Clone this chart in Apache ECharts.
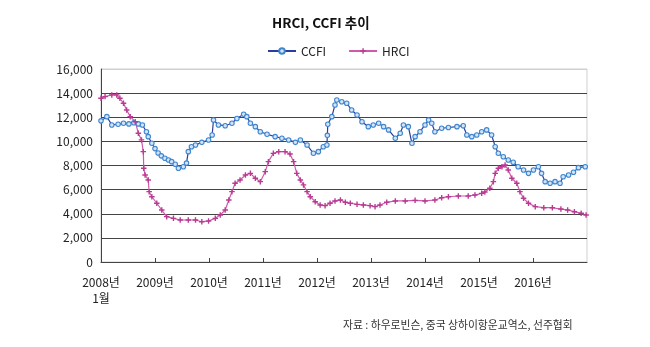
<!DOCTYPE html>
<html><head><meta charset="utf-8">
<script src="https://cdn.jsdelivr.net/npm/echarts@6/dist/echarts.min.js"></script>
<style>html,body{margin:0;padding:0;background:#fff}#c{width:650px;height:347px}</style>
</head><body><div id="c"></div>
<script>
// months since Jan 2008
const ccfiMonths = [0,1.3,2.4,3.8,5.0,6.2,7.3,8.3,9.2,10.1,10.5,11.3,12.0,12.7,13.4,14.2,15.0,15.7,16.5,17.2,18.3,19.0,19.4,20.1,21.0,22.4,23.9,24.7,25.0,26.1,27.6,29.1,30.2,31.7,32.4,33.2,34.3,35.4,36.9,38.7,40.2,41.7,43.2,44.3,45.8,47.2,48.3,49.4,50.2,50.3,50.4,51.3,52.0,52.4,53.5,54.6,55.7,56.9,58.0,59.4,60.5,61.7,62.8,63.9,65.4,66.5,67.2,68.3,69.1,69.8,70.9,72.0,72.8,73.5,74.2,75.7,77.2,79.1,80.5,81.3,82.4,83.5,84.6,85.7,86.8,87.6,88.3,89.4,90.5,91.6,92.7,93.9,95.0,96.1,97.2,97.9,98.7,99.8,100.9,102.0,102.7,103.9,105.0,106.1,107.6];
const ccfiValues = [11700,12050,11360,11420,11500,11450,11550,11450,11360,10800,10390,9840,9400,9040,8800,8600,8450,8320,8100,7770,7900,8200,9150,9560,9700,9920,10110,10530,11770,11360,11300,11500,11900,12250,12050,11500,11220,10800,10590,10390,10260,10120,9920,10110,9700,9010,9150,9560,9700,10500,11420,12050,13020,13430,13290,13160,12600,12190,11630,11220,11360,11500,11220,10950,10260,10670,11360,11220,9840,10390,10800,11360,11770,11500,10800,11090,11150,11220,11300,10530,10390,10530,10800,10950,10530,9560,9010,8730,8460,8270,7900,7630,7350,7630,7900,7350,6660,6530,6660,6530,7070,7210,7440,7820,7900];
const hrciMonths = [0,0.9,2.4,3.5,4.2,5.0,5.7,6.5,7.6,8.3,9.0,9.4,9.5,9.8,10.5,10.7,11.3,12.4,13.5,14.6,16.1,17.6,19.4,21.0,22.4,23.9,25.4,26.5,27.6,28.4,29.1,29.8,30.9,32.1,33.2,34.3,35.4,36.5,37.2,38.3,39.5,40.9,42.0,42.8,43.5,44.3,45.0,45.8,46.5,47.6,48.7,49.8,50.9,52.0,53.2,54.3,55.4,56.9,58.3,59.8,60.9,62.0,63.5,65.4,67.6,69.8,72.0,74.2,75.7,77.2,79.4,81.6,83.1,84.6,85.3,86.4,87.2,87.6,88.3,89.1,89.8,90.5,91.3,92.4,93.1,93.9,95.0,96.5,98.4,100.3,102.2,103.7,105.2,106.7,107.8];
const hrciValues = [13570,13710,13850,13850,13570,13160,12600,12050,11630,10670,10120,9150,7770,7210,6800,5830,5410,4870,4310,3760,3620,3480,3480,3480,3340,3400,3620,3900,4310,5140,5830,6530,6800,7210,7350,6940,6660,7490,8320,9010,9150,9150,8950,8320,7350,6800,6390,5830,5410,5000,4730,4670,4870,5060,5140,4950,4870,4780,4730,4670,4590,4730,4950,5060,5060,5110,5060,5140,5330,5410,5470,5470,5550,5690,5800,6110,6660,7350,7770,7900,8040,7630,6940,6530,5830,5280,4870,4590,4500,4500,4390,4310,4170,4040,3900];
const yearLabels = {0:'2008년\n1월',12:'2009년',24:'2010년',36:'2011년',48:'2012년',60:'2013년',72:'2014년',84:'2015년',96:'2016년'};
const titleText = 'HRCI, CCFI 추이';
const sourceText = '자료 : 하우로빈슨, 중국 상하이항운교역소, 선주협회';

const FONT = "'Noto Sans CJK KR', 'Noto Sans', sans-serif";
const pair = (xs, ys) => xs.map((x, i) => [x, ys[i]]);
const plus = 'path://M3,0H5V3H8V5H5V8H3V5H0V3H3Z';

const chart = echarts.init(document.getElementById('c'), null, {renderer: 'canvas'});
chart.setOption({
  animation: false,
  textStyle: {fontFamily: FONT},
  title: {text: titleText, left: 267, top: 11,
    textStyle: {fontFamily: FONT, fontSize: 13.5, fontWeight: 'bold', color: '#111'}},
  legend: {left: 262, top: 40, itemWidth: 28, itemHeight: 7, itemGap: 22,
    textStyle: {fontFamily: FONT, fontSize: 12, color: '#222'},
    data: ['CCFI', 'HRCI']},
  graphic: [{type: 'text', left: 343, top: 320,
    style: {text: sourceText, font: "10.8px 'Noto Sans CJK KR'", fill: '#333'}}],
  grid: {left: 101, right: 63, top: 69, bottom: 85, show: true, borderColor: '#cfcfcf', borderWidth: 1},
  xAxis: {type: 'value', min: 0, max: 108, interval: 12,
    axisLine: {show: true, lineStyle: {color: '#444', width: 1}},
    axisTick: {show: true, inside: true, length: 4, lineStyle: {color: '#444'}},
    splitLine: {show: false},
    axisLabel: {fontFamily: FONT, fontSize: 12, color: '#222', margin: 12, lineHeight: 16,
      showMaxLabel: false,
      formatter: v => yearLabels[v] || ''}},
  yAxis: {type: 'value', min: 0, max: 16000, interval: 2000,
    axisLine: {show: true, lineStyle: {color: '#444', width: 1}},
    axisTick: {show: false},
    splitLine: {show: true, lineStyle: {color: ['#444','#444','#444','#444','#444','#444','#444','#444','#d0d0d0'], width: 1}},
    axisLabel: {fontFamily: FONT, fontSize: 12, color: '#222', margin: 8,
      formatter: v => String(v).replace(/\B(?=(\d{3})+(?!\d))/g, ',')}},
  series: [
    {name: 'CCFI', type: 'line', data: pair(ccfiMonths, ccfiValues),
      symbol: 'circle', symbolSize: 4.5, showAllSymbol: true,
      lineStyle: {color: '#2a3c9c', width: 1.2},
      itemStyle: {color: '#d4e4f7', borderColor: '#3f86cf', borderWidth: 1.1}},
    {name: 'HRCI', type: 'line', data: pair(hrciMonths, hrciValues),
      symbol: plus, symbolSize: 5.5, showAllSymbol: true,
      lineStyle: {color: '#d05aaa', width: 1.2},
      itemStyle: {color: '#b83a92'}}
  ]
});
</script></body></html>
